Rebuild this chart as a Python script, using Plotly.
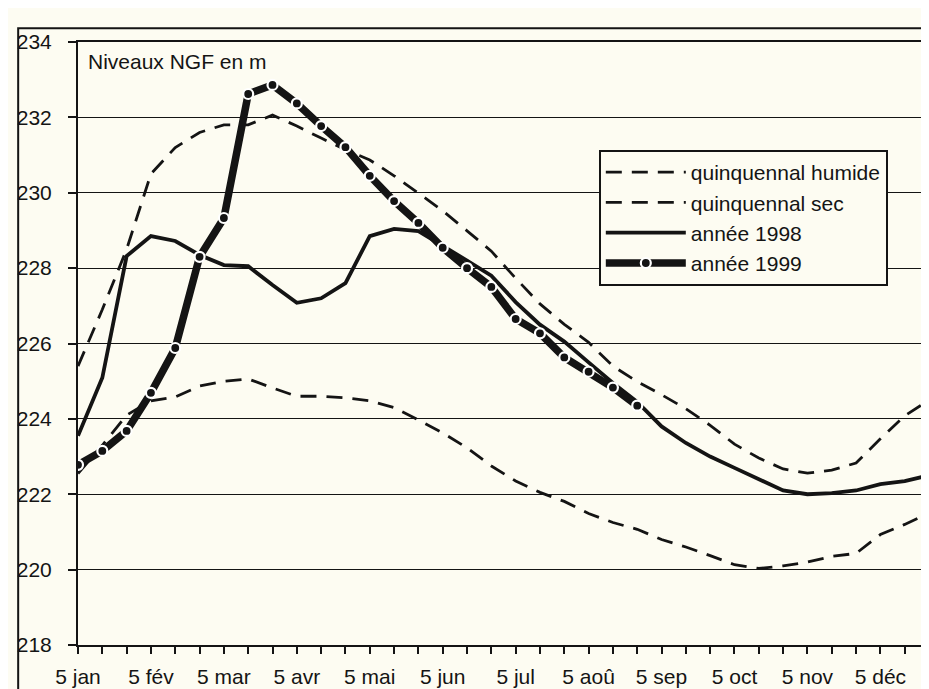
import plotly.graph_objects as go

months = ["jan", "fév", "mar", "avr", "mai", "jun", "jul", "aoû", "sep", "oct", "nov", "déc"]
categories = [f"{d} {m}" for m in months for d in (5, 15, 25)]
tick_labels = [c if c.startswith("5 ") else "" for c in categories]

quinq_humide = [225.4, 226.9, 228.5, 230.5, 231.2, 231.6, 231.8, 231.8, 232.06, 231.77, 231.45, 231.14,
                230.87, 230.45, 229.99, 229.52, 228.99, 228.45, 227.73, 227.05, 226.51, 226.03, 225.4, 224.99,
                224.64, 224.27, 223.83, 223.33, 222.96, 222.67, 222.56, 222.64, 222.83, 223.47, 224.08, 224.5]
quinq_sec = [222.55, 223.3, 224.1, 224.48, 224.58, 224.87, 225.0, 225.06, 224.82, 224.6, 224.6, 224.56,
             224.48, 224.3, 223.97, 223.63, 223.23, 222.75, 222.35, 222.05, 221.81, 221.49, 221.25, 221.07,
             220.8, 220.6, 220.37, 220.13, 220.03, 220.1, 220.2, 220.35, 220.43, 220.93, 221.2, 221.5]
annee_1998 = [223.55, 225.09, 228.32, 228.85, 228.72, 228.35, 228.08, 228.05, 227.55, 227.08, 227.2, 227.6,
              228.85, 229.04, 228.98, 228.6, 228.2, 227.8, 227.1, 226.5, 226.05, 225.5, 224.95, 224.45,
              223.8, 223.36, 223.0, 222.7, 222.4, 222.1, 222.0, 222.03, 222.1, 222.27, 222.35, 222.5]
annee_1999 = [222.78, 223.15, 223.68, 224.69, 225.88, 228.3, 229.33, 232.62, 232.86, 232.37, 231.77, 231.21,
              230.45, 229.78, 229.2, 228.54, 228.0, 227.5, 226.65, 226.27, 225.63, 225.25, 224.83, 224.35]

INK = "#141414"
BG = "#fdfcf2"
FONT = "Liberation Sans, Arial, sans-serif"
FS = 21

fig = go.Figure()
fig.add_trace(go.Scatter(x=categories, y=quinq_humide, mode="lines", name="quinquennal humide",
                         legendgroup="a",
                         line=dict(color=INK, width=2.8, dash="16px,10px")))
fig.add_trace(go.Scatter(x=categories, y=quinq_sec, mode="lines", name="quinquennal sec",
                         legendgroup="b",
                         line=dict(color=INK, width=2.8, dash="16px,10px")))
fig.add_trace(go.Scatter(x=categories, y=annee_1998, mode="lines", name="année 1998",
                         legendgroup="c",
                         line=dict(color=INK, width=3.8)))
fig.add_trace(go.Scatter(x=categories[:len(annee_1999)], y=annee_1999, mode="lines+markers", name="année 1999",
                         legendgroup="d",
                         line=dict(color=INK, width=7.5),
                         marker=dict(symbol="circle", size=10, color=INK, line=dict(color="white", width=2.2))))

fig.add_annotation(text="Niveaux NGF en m", xref="paper", yref="paper", x=0.009, y=0.967,
                   xanchor="left", yanchor="middle", showarrow=False,
                   font=dict(family=FONT, size=FS, color=INK))

# outer frame
fig.add_shape(type="rect", xref="paper", yref="paper", x0=-0.0703, x1=1.0, y0=-0.078, y1=1.023,
              line=dict(color=INK, width=2), layer="above")

fig.update_layout(
    width=929, height=689,
    margin=dict(l=70, r=6, t=34, b=52),
    paper_bgcolor=BG, plot_bgcolor=BG,
    font=dict(family=FONT, size=FS, color=INK),
    showlegend=True,
    legend=dict(x=0.612, y=0.821, xanchor="left", yanchor="top",
                bgcolor=BG, bordercolor=INK, borderwidth=2,
                font=dict(family=FONT, size=FS, color=INK),
                itemwidth=80, tracegroupgap=5, traceorder="normal"),
    xaxis=dict(type="category", categoryorder="array", categoryarray=categories,
               range=[0, len(categories) - 1],
               tickmode="array", tickvals=categories, ticktext=tick_labels,
               ticks="outside", ticklen=7, tickwidth=2, tickcolor=INK,
               showline=True, linecolor=INK, linewidth=2, mirror=True,
               showgrid=False, zeroline=False, tickangle=0, ticklabelstandoff=5),
    yaxis=dict(range=[218, 234], tickmode="linear", tick0=218, dtick=2,
               ticks="outside", ticklen=8, tickwidth=2, tickcolor=INK,
               showline=True, linecolor=INK, linewidth=2, mirror=True,
               showgrid=True, gridcolor=INK, gridwidth=1, zeroline=False,
               ticklabelstandoff=12),
)

fig.write_html("out.html")
